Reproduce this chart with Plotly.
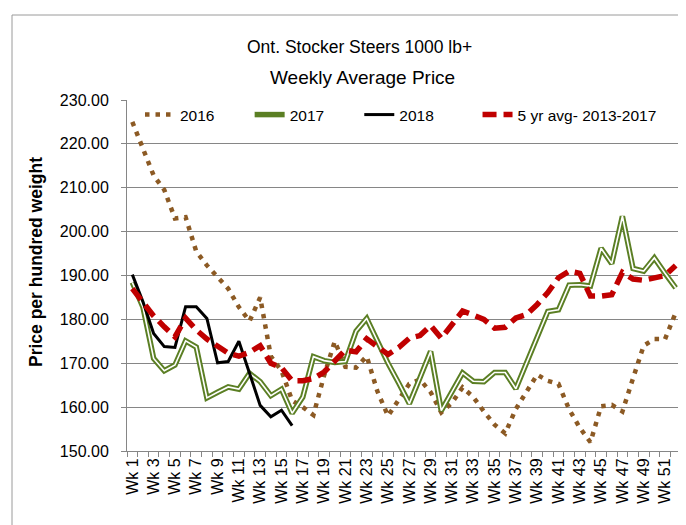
import plotly.graph_objects as go

weeks = [f"Wk {i}" for i in range(1, 53)]
tick_text = [w if (i % 2 == 0) else "" for i, w in enumerate(weeks)]

y2016 = [225.0, 218.8, 212.8, 209.5, 203.0, 203.3, 195.5, 192.3, 189.6, 187.0,
         182.8, 179.6, 185.0, 171.6, 168.3, 161.5, 160.0, 158.2, 167.2, 175.0,
         169.2, 169.0, 171.6, 163.6, 158.0, 161.5, 165.3, 166.3, 163.4, 158.8,
         161.0, 164.5, 162.3, 159.0, 156.0, 154.0, 159.6, 163.5, 167.4, 166.0,
         165.3, 159.5, 155.3, 152.0, 160.2, 160.5, 159.0, 166.6, 174.0, 175.5,
         175.5, 181.5]

y2017 = [188.4, 182.8, 171.1, 168.3, 169.6, 175.1, 173.7, 162.1, 163.4, 164.6,
         164.1, 167.7, 165.8, 162.6, 164.1, 158.6, 162.3, 171.5, 170.6, 170.2,
         170.4, 177.3, 180.2, 175.0, 170.0, 165.5, 160.8, 166.7, 172.7, 159.2,
         163.5, 167.8, 165.9, 165.8, 167.9, 167.9, 164.2, 170.0, 175.8, 181.8,
         182.2, 187.8, 187.9, 187.6, 196.2, 192.7, 203.5, 191.6, 191.0, 194.0,
         190.5, 187.2]

y2018 = [190.2, 184.0, 176.8, 173.8, 173.6, 182.9, 182.9, 180.2, 170.1, 170.4,
         175.0, 167.5, 160.4, 157.8, 159.3, 155.8]

y5yr = [187.0, 184.0, 180.8, 178.3, 176.0, 180.3, 177.6, 175.5, 174.0, 172.3,
        171.6, 172.5, 174.0, 170.0, 169.0, 166.0, 166.0, 166.5, 168.0, 170.7,
        173.0, 172.6, 175.6, 173.8, 172.0, 173.6, 175.7, 176.3, 178.6, 175.7,
        178.8, 181.9, 181.0, 180.0, 178.0, 178.2, 180.3, 181.1, 183.4, 186.1,
        189.5, 191.0, 190.5, 185.3, 185.3, 185.6, 190.7, 189.2, 188.9, 189.3,
        190.0, 192.3]

series_names = ["2016", "2017", "2018", "5 yr avg- 2013-2017"]
legend_pad = [7, 7, 9, 0]  # non-breaking spaces used to space legend entries

FONT = "Liberation Sans, Arial, sans-serif"
GRID = "#868686"

def lname(i):
    return series_names[i] + "\u00a0" * legend_pad[i]

fig = go.Figure()
fig.add_trace(go.Scatter(x=weeks, y=y2016, name=lname(0), mode="lines",
                         line=dict(color="#8C5A24", width=4.5, dash="4.5px,6px")))
fig.add_trace(go.Scatter(x=weeks, y=y2017, name=lname(1), mode="lines",
                         line=dict(color="#5B7F24", width=5.5)))
fig.add_trace(go.Scatter(x=weeks, y=y2017, name=series_names[1], mode="lines", showlegend=False,
                         hoverinfo="skip", line=dict(color="white", width=1.6)))
fig.add_trace(go.Scatter(x=weeks[:len(y2018)], y=y2018, name=lname(2), mode="lines",
                         line=dict(color="black", width=3)))
fig.add_trace(go.Scatter(x=weeks, y=y5yr, name=lname(3), mode="lines",
                         line=dict(color="#C00000", width=5.5, dash="14px,7px")))

L, R, T, B = 119, 13, 92, 82
W, H = 686, 525
pw, ph = W - L - R, H - T - B

def px_x(x):
    return (x - L) / pw

def px_y(y):
    return (H - B - y) / ph

fig.update_layout(
    width=W, height=H,
    margin=dict(l=L, r=R, t=T, b=B),
    paper_bgcolor="white", plot_bgcolor="white",
    font=dict(family=FONT, color="black"),
    showlegend=True,
    legend=dict(orientation="h", x=px_x(132), y=px_y(107), xanchor="left", yanchor="middle",
                bgcolor="rgba(0,0,0,0)", font=dict(family=FONT, size=15.5),
                traceorder="normal"),
    xaxis=dict(type="category", tickmode="array", tickvals=weeks, ticktext=tick_text,
               tickangle=-90, tickson="boundaries", ticks="outside", ticklen=5,
               tickcolor=GRID, showline=True, linecolor=GRID, linewidth=1,
               showgrid=False, tickfont=dict(family=FONT, size=16),
               range=[-0.5, 51.5]),
    yaxis=dict(range=[150, 230], dtick=10, tick0=150, tickformat=".2f",
               showgrid=True, gridcolor=GRID, gridwidth=1,
               showline=True, linecolor=GRID, ticks="outside", ticklen=5,
               tickcolor=GRID, zeroline=False, ticklabelstandoff=9,
               tickfont=dict(family=FONT, size=16)),
    annotations=[
        dict(text="Ont. Stocker Steers 1000 lb+", x=px_x(351), y=px_y(39),
             xref="paper", yref="paper", xanchor="center", yanchor="middle",
             showarrow=False, font=dict(family=FONT, size=17.5)),
        dict(text="Weekly Average Price", x=px_x(354), y=px_y(70),
             xref="paper", yref="paper", xanchor="center", yanchor="middle",
             showarrow=False, font=dict(family=FONT, size=19)),
        dict(text="<b>Price per hundred weight</b>", textangle=-90,
             x=px_x(28), y=px_y(254), xref="paper", yref="paper",
             xanchor="center", yanchor="middle",
             showarrow=False, font=dict(family=FONT, size=17.5)),
    ],
    shapes=[dict(type="rect", xref="paper", yref="paper",
                 x0=px_x(4), x1=px_x(683), y0=px_y(523), y1=px_y(7),
                 line=dict(color="#9A9A9A", width=1), fillcolor="rgba(0,0,0,0)", layer="below")],
)

fig.write_html("out.html")
